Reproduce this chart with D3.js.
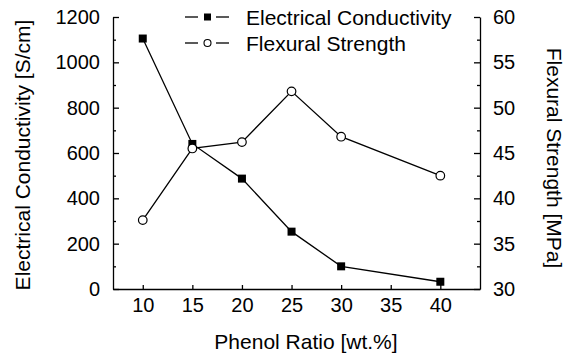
<!DOCTYPE html>
<html>
<head>
<meta charset="utf-8">
<script src="https://cdn.jsdelivr.net/npm/d3@7"></script>
<style>
  body { margin: 0; background: #fff; }
  text { font-family: "Liberation Sans", Arial, sans-serif; fill: #000; }
  .axis path, .axis line { stroke: #000; stroke-width: 1.3; }
  .axis text { font-size: 20px; }
</style>
</head>
<body>
<div id="chart"></div>
<script>
// data
var phenolRatio = [10, 15, 20, 25, 30, 40];
var conductivity = [1105, 640, 487, 253, 100, 32];
var flexural = [37.6, 45.5, 46.2, 51.8, 46.8, 42.5];

var xTicks = [10, 15, 20, 25, 30, 35, 40];
var leftTicks = [0, 200, 400, 600, 800, 1000, 1200];
var leftMinor = [100, 300, 500, 700, 900, 1100];
var rightTicks = [30, 35, 40, 45, 50, 55, 60];
var rightMinor = [32.5, 37.5, 42.5, 47.5, 52.5, 57.5];

var seriesNames = ["Electrical Conductivity", "Flexural Strength"];

var svgWidth = 573;
var svgHeight = 356;
var margin = { top: 17, right: 93, bottom: 67, left: 113 };
var width = svgWidth - margin.left - margin.right;
var height = svgHeight - margin.top - margin.bottom;

var svg = d3.select("#chart")
  .append("svg")
  .attr("width", svgWidth)
  .attr("height", svgHeight);

var chartGroup = svg.append("g")
  .attr("transform", `translate(${margin.left}, ${margin.top})`);

var x = d3.scaleLinear().domain([7, 44]).range([0, width]);
var yLeft = d3.scaleLinear().domain([0, 1200]).range([height, 0]);
var yRight = d3.scaleLinear().domain([30, 60]).range([height, 0]);

// axes, ticks point inward
chartGroup.append("g")
  .attr("class", "axis")
  .attr("transform", `translate(0, ${height})`)
  .call(d3.axisBottom(x).tickValues(xTicks).tickFormat(d3.format("d"))
    .tickSizeInner(-4).tickSizeOuter(0).tickPadding(9));

chartGroup.append("g")
  .attr("class", "axis")
  .call(d3.axisLeft(yLeft).tickValues(leftTicks).tickFormat(d3.format("d"))
    .tickSizeInner(-6).tickSizeOuter(0).tickPadding(13));

chartGroup.append("g")
  .attr("class", "axis")
  .call(d3.axisLeft(yLeft).tickValues(leftMinor).tickFormat("").tickSizeInner(-3).tickSizeOuter(0))
  .select(".domain").remove();

chartGroup.append("g")
  .attr("class", "axis")
  .attr("transform", `translate(${width}, 0)`)
  .call(d3.axisRight(yRight).tickValues(rightTicks).tickFormat(d3.format("d"))
    .tickSizeInner(-6).tickSizeOuter(0).tickPadding(13));

chartGroup.append("g")
  .attr("class", "axis")
  .attr("transform", `translate(${width}, 0)`)
  .call(d3.axisRight(yRight).tickValues(rightMinor).tickFormat("").tickSizeInner(-3).tickSizeOuter(0))
  .select(".domain").remove();

// lines
var condLine = d3.line()
  .x((d, i) => x(phenolRatio[i]))
  .y(d => yLeft(d));

var flexLine = d3.line()
  .x((d, i) => x(phenolRatio[i]))
  .y(d => yRight(d));

chartGroup.append("path")
  .datum(conductivity)
  .attr("d", condLine)
  .attr("fill", "none")
  .attr("stroke", "#000")
  .attr("stroke-width", 1.3);

chartGroup.selectAll(".sq")
  .data(conductivity)
  .enter()
  .append("rect")
  .attr("class", "sq")
  .attr("x", (d, i) => x(phenolRatio[i]) - 4)
  .attr("y", d => yLeft(d) - 4)
  .attr("width", 8)
  .attr("height", 8)
  .attr("fill", "#000");

chartGroup.append("path")
  .datum(flexural)
  .attr("d", flexLine)
  .attr("fill", "none")
  .attr("stroke", "#000")
  .attr("stroke-width", 1.3);

chartGroup.selectAll(".circ")
  .data(flexural)
  .enter()
  .append("circle")
  .attr("class", "circ")
  .attr("cx", (d, i) => x(phenolRatio[i]))
  .attr("cy", d => yRight(d))
  .attr("r", 4.3)
  .attr("fill", "#fff")
  .attr("stroke", "#000")
  .attr("stroke-width", 1.2);

// legend
var legend = svg.append("g").attr("transform", "translate(185, 17)");
seriesNames.forEach(function(name, i) {
  var row = legend.append("g").attr("transform", `translate(0, ${i * 26})`);
  row.append("line").attr("x1", 0).attr("x2", 13).attr("y1", 0).attr("y2", 0)
    .attr("stroke", "#000").attr("stroke-width", 1.3);
  row.append("line").attr("x1", 31).attr("x2", 44).attr("y1", 0).attr("y2", 0)
    .attr("stroke", "#000").attr("stroke-width", 1.3);
  if (i == 0) {
    row.append("rect").attr("x", 19).attr("y", -3.5).attr("width", 7).attr("height", 7).attr("fill", "#000");
  } else {
    row.append("circle").attr("cx", 22.5).attr("cy", 0).attr("r", 3.5)
      .attr("fill", "#fff").attr("stroke", "#000").attr("stroke-width", 1.1);
  }
  row.append("text")
    .attr("x", 61)
    .attr("dy", "0.36em")
    .attr("font-size", "21px")
    .text(name);
});

// axis titles
svg.append("text")
  .attr("transform", "translate(30, 155) rotate(-90)")
  .attr("text-anchor", "middle")
  .attr("font-size", "21px")
  .text("Electrical Conductivity [S/cm]");

svg.append("text")
  .attr("transform", "translate(547, 158) rotate(90)")
  .attr("text-anchor", "middle")
  .attr("font-size", "21px")
  .text("Flexural Strength [MPa]");

svg.append("text")
  .attr("x", 306)
  .attr("y", 349)
  .attr("text-anchor", "middle")
  .attr("font-size", "21px")
  .text("Phenol Ratio [wt.%]");
</script>
</body>
</html>
